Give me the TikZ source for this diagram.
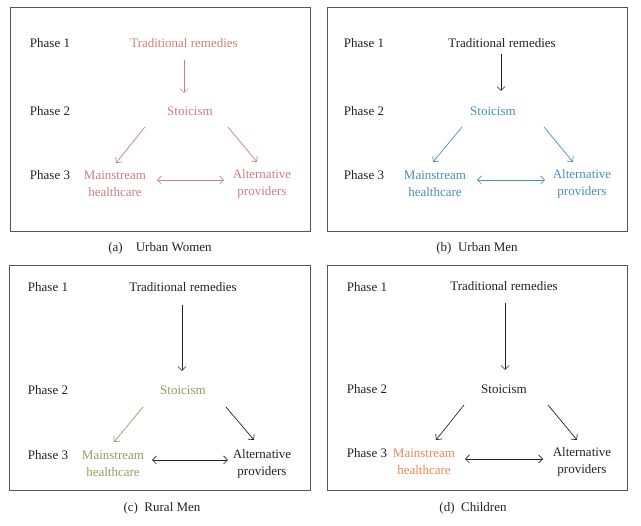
\documentclass[tikz,border=0pt]{standalone}
\usepackage{fontspec}
\setmainfont{Liberation Serif}
\usetikzlibrary{arrows.meta}
\definecolor{cpink}{HTML}{CD7E80}
\definecolor{cteal}{HTML}{4A90A8}
\definecolor{cgreen}{HTML}{8CA05E}
\definecolor{corange}{HTML}{E8894A}
\definecolor{cbox}{HTML}{555555}
\definecolor{ctext}{HTML}{222222}
\tikzset{
  lbl/.style={font=\fontsize{13}{17}\selectfont, text=ctext, inner sep=0pt, align=center},
  captxt/.style={font=\fontsize{13}{17}\selectfont, text=ctext, inner sep=0pt},
  frame/.style={draw=cbox, line width=0.9pt},
  arr/.style={-{Straight Barb[length=4pt,width=8pt]}, line width=0.7pt, draw=ctext},
  darr/.style={{Straight Barb[length=4pt,width=8pt]}-{Straight Barb[length=4pt,width=8pt]}, line width=0.7pt, draw=ctext},
}
\begin{document}
\begin{tikzpicture}[x=1pt,y=-1pt]
\useasboundingbox (0,0) rectangle (641,526);
% ---------- panel (a)
\draw[frame] (10,7) rectangle (310,231);
\node[lbl] (a1) at (50,43) {Phase 1};
\node[lbl] (a2) at (50,111) {Phase 2};
\node[lbl] (a3) at (50,175) {Phase 3};
\node[lbl,text=cpink] (atr) at (184,43) {Traditional remedies};
\node[lbl,text=cpink] (ast) at (190,111) {Stoicism};
\node[lbl,text=cpink] (ams) at (115,184) {Mainstream\\healthcare};
\node[lbl,text=cpink] (aal) at (262,184) {Alternative\\providers};
\coordinate (ap1) at (184,60); \coordinate (ap2) at (184,93);
\coordinate (ap3) at (145,127); \coordinate (ap4) at (116,163);
\coordinate (ap5) at (228,127); \coordinate (ap6) at (257,162);
\coordinate (ap7) at (157,180); \coordinate (ap8) at (224,180);
\draw[arr,draw=cpink] (ap1) -- (ap2);
\draw[arr,draw=cpink] (ap3) -- (ap4);
\draw[arr,draw=cpink] (ap5) -- (ap6);
\draw[darr,draw=cpink] (ap7) -- (ap8);
\node[captxt] (acap) at (160,248) {(a)\quad Urban Women};
% ---------- panel (b)
\draw[frame] (327,7) rectangle (627,231);
\node[lbl] (b1) at (364,43) {Phase 1};
\node[lbl] (b2) at (364,111) {Phase 2};
\node[lbl] (b3) at (364,175) {Phase 3};
\node[lbl] (btr) at (502,43) {Traditional remedies};
\node[lbl,text=cteal] (bst) at (493,111) {Stoicism};
\node[lbl,text=cteal] (bms) at (435,184) {Mainstream\\healthcare};
\node[lbl,text=cteal] (bal) at (582,184) {Alternative\\providers};
\coordinate (bp1) at (501,54); \coordinate (bp2) at (501,91);
\coordinate (bp3) at (462,127); \coordinate (bp4) at (433,162);
\coordinate (bp5) at (544,127); \coordinate (bp6) at (573,162);
\coordinate (bp7) at (477,180); \coordinate (bp8) at (545,180);
\draw[arr] (bp1) -- (bp2);
\draw[arr,draw=cteal] (bp3) -- (bp4);
\draw[arr,draw=cteal] (bp5) -- (bp6);
\draw[darr,draw=cteal] (bp7) -- (bp8);
\node[captxt] (bcap) at (477,248) {(b)\enspace Urban Men};
% ---------- panel (c)
\draw[frame] (9,265) rectangle (310,490);
\node[lbl] (c1) at (48,287) {Phase 1};
\node[lbl] (c2) at (48,390) {Phase 2};
\node[lbl] (c3) at (48,455) {Phase 3};
\node[lbl] (ctr) at (183,287) {Traditional remedies};
\node[lbl,text=cgreen] (cst) at (183,390) {Stoicism};
\node[lbl,text=cgreen] (cms) at (113,464) {Mainstream\\healthcare};
\node[lbl] (cal) at (262,464) {Alternative\\providers};
\coordinate (cp1) at (182,305); \coordinate (cp2) at (182,371);
\coordinate (cp3) at (143,407); \coordinate (cp4) at (114,442);
\coordinate (cp5) at (226,407); \coordinate (cp6) at (254,440);
\coordinate (cp7) at (152,460); \coordinate (cp8) at (228,460);
\draw[arr] (cp1) -- (cp2);
\draw[arr,draw=cgreen] (cp3) -- (cp4);
\draw[arr] (cp5) -- (cp6);
\draw[darr] (cp7) -- (cp8);
\node[captxt] (ccap) at (162,508) {(c)\enspace Rural Men};
% ---------- panel (d)
\draw[frame] (327,265) rectangle (627,490);
\node[lbl] (d1) at (367,287) {Phase 1};
\node[lbl] (d2) at (367,389) {Phase 2};
\node[lbl] (d3) at (367,453) {Phase 3};
\node[lbl] (dtr) at (504,286) {Traditional remedies};
\node[lbl] (dst) at (504,389) {Stoicism};
\node[lbl,text=corange] (dms) at (424,462) {Mainstream\\healthcare};
\node[lbl] (dal) at (582,462) {Alternative\\providers};
\coordinate (dp1) at (505,303); \coordinate (dp2) at (505,370);
\coordinate (dp3) at (464,405); \coordinate (dp4) at (436,440);
\coordinate (dp5) at (548,405); \coordinate (dp6) at (577,440);
\coordinate (dp7) at (465,459); \coordinate (dp8) at (543,459);
\draw[arr] (dp1) -- (dp2);
\draw[arr] (dp3) -- (dp4);
\draw[arr] (dp5) -- (dp6);
\draw[darr] (dp7) -- (dp8);
\node[captxt] (dcap) at (473,508) {(d)\enspace Children};
\end{tikzpicture}
\end{document}
